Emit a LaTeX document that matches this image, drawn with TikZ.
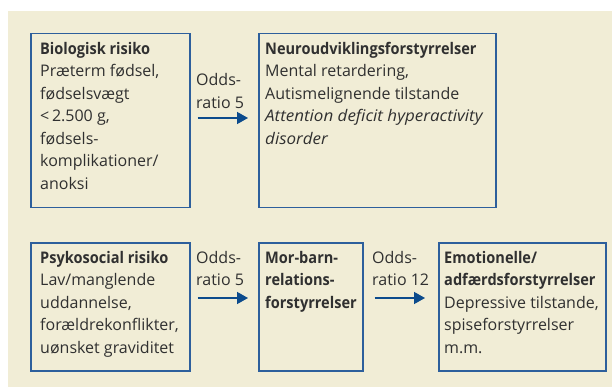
\documentclass[tikz,border=0pt]{standalone}
\usepackage{fontspec}
\usepackage{graphicx}
\setmainfont{Open Sans}
\usetikzlibrary{arrows.meta}
\definecolor{bgc}{HTML}{F1EDD6}
\definecolor{boxc}{HTML}{2D5F9C}
\definecolor{arrc}{HTML}{0C4B8C}
\definecolor{txtc}{HTML}{303030}
\tikzset{
  boxnode/.style={draw=boxc, line width=1.5pt, rectangle, inner sep=0pt, anchor=north west},
  txtnode/.style={anchor=north west, inner sep=0pt, align=left, text=txtc,
    font=\fontsize{16}{22.5}\selectfont},
  arr/.style={draw=arrc, line width=1.5pt, -{Triangle[length=11pt,width=12pt]}}
}
\newcommand{\fl}{\rule{0pt}{16pt}}
\newcommand{\btx}[1]{\scalebox{0.91}[1]{\textbf{#1}}}
\newcommand{\itx}[1]{\scalebox{1.06}[1]{\textit{#1}}}
\begin{document}
\begin{tikzpicture}[x=1pt,y=-1pt]
\useasboundingbox (0,0) rectangle (612,387);
\fill[bgc] (8,11) rectangle (612,387);
% boxes
\node[boxnode, minimum width=159pt, minimum height=174pt] (bio) at (30,33) {};
\node[boxnode, minimum width=237pt, minimum height=174pt] (neuro) at (258,33) {};
\node[boxnode, minimum width=159pt, minimum height=128pt] (psy) at (30,242) {};
\node[boxnode, minimum width=104pt, minimum height=128pt] (mor) at (258,242) {};
\node[boxnode, minimum width=167pt, minimum height=128pt] (emo) at (438,242) {};
% texts
\node[txtnode] (biot) at (40,38) {\fl\btx{Biologisk risiko}\\Præterm fødsel,\\fødselsvægt\\<\,2.500 g,\\fødsels-\\komplikationer/\\anoksi};
\node[txtnode] (neurot) at (265,38) {\fl\btx{Neuroudviklingsforstyrrelser}\\Mental retardering,\\Autismelignende tilstande\\\itx{Attention deficit hyperactivity}\\\itx{disorder}};
\node[txtnode] (psyt) at (40,247) {\fl\btx{Psykosocial risiko}\\Lav/manglende\\uddannelse,\\forældrekonflikter,\\uønsket graviditet};
\node[txtnode] (mort) at (265,247) {\fl\btx{Mor-barn-}\\\btx{relations-}\\\btx{forstyrrelser}};
\node[txtnode] (emot) at (444,247) {\fl\btx{Emotionelle/}\\\btx{adfærdsforstyrrelser}\\Depressive tilstande,\\spiseforstyrrelser\\m.m.};
% odds labels
\node[txtnode] (o1) at (196,69.5) {\fl Odds-\\ratio 5};
\node[txtnode] (o2) at (196,247) {\fl Odds-\\ratio 5};
\node[txtnode] (o3) at (372,247) {\fl Odds-\\ratio 12};
% arrows
\draw[arr] ([shift={(7,85)}]bio.north east) -- ([shift={(-10,85)}]neuro.north west);
\draw[arr] ([shift={(7,56)}]psy.north east) -- ([shift={(-10,56)}]mor.north west);
\draw[arr] ([shift={(11,56)}]mor.north east) -- ([shift={(-13,56)}]emo.north west);
\end{tikzpicture}
\end{document}
